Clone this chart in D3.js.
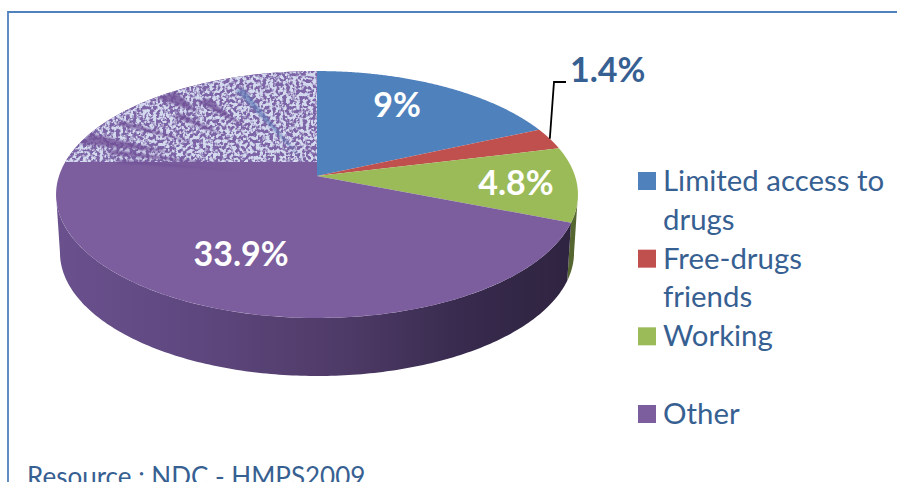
<!DOCTYPE html>
<html>
<head>
<meta charset="utf-8">
<script src="https://cdn.jsdelivr.net/npm/d3@7"></script>
<style>
  html, body { margin: 0; padding: 0; background: #fff; overflow: hidden; }
  text { font-family: Lato, "Open Sans", sans-serif; }
</style>
</head>
<body>
<div id="chart"></div>
<script>
// data
var categories = ["Limited access to drugs", "Free-drugs friends", "Working", "Other"];
var values = [9, 1.4, 4.8, 33.9];
var valueLabels = ["9%", "1.4%", "4.8%", "33.9%"];
var colors = ["#4f81bd", "#c0504d", "#9bbb59", "#7c5e9e"];
var legendLines = [["Limited access to", "drugs"], ["Free-drugs", "friends"], ["Working", ""], ["Other"]];
var sourceNote = "Resource : NDC - HMPS2009";

var width = 897, height = 482;

var svg = d3.select("#chart")
  .append("svg")
    .attr("width", width)
    .attr("height", height);

// the pie is drawn in perspective: apex, radii and foreshortening of the top face
var cx = 317, cy = 176, rx = 258, ry = 120.7, tilt = 0.15;
var depth = 58, bottomShrink = 0.985;

function project(a, r, down) {
  var X = r * Math.sin(a), Y = r * Math.cos(a), w = 1 + tilt * Y;
  return [
    cx + rx * X / w * (down ? bottomShrink : 1),
    cy - ry * Y / w + (down ? depth : 0)
  ];
}

var slices = d3.pie().sort(null)(values);
var line = d3.line();

function rimPoints(a0, a1, down) {
  return d3.range(0, 181).map(function(i) {
    return project(a0 + (a1 - a0) * i / 180, 1, down);
  });
}

var defs = svg.append("defs");

// side wall shading
var sideGrad = defs.append("linearGradient")
    .attr("id", "sideGrad")
    .attr("gradientUnits", "userSpaceOnUse")
    .attr("x1", 57).attr("x2", 570).attr("y1", 0).attr("y2", 0);
[[0, "#6a518e"], [0.25, "#5f4880"], [0.55, "#4f3b68"], [0.8, "#372a4d"], [1, "#2f2440"]].forEach(function(s) {
  sideGrad.append("stop").attr("offset", s[0]).attr("stop-color", s[1]);
});

// speckle used for the patch on the far side of the pie
var speckle = defs.append("filter")
    .attr("id", "speckle")
    .attr("x", 0).attr("y", 0).attr("width", 1).attr("height", 1);
speckle.append("feTurbulence")
    .attr("type", "fractalNoise")
    .attr("baseFrequency", 0.3)
    .attr("numOctaves", 2)
    .attr("seed", 4);
speckle.append("feColorMatrix")
    .attr("values", "0 0 0 0 0.66  0 0 0 0 0.70  0 0 0 0 0.86  6 0 0 0 -2.5");
speckle.append("feGaussianBlur").attr("stdDeviation", 0.7);

var soft = defs.append("filter").attr("id", "soft");
soft.append("feGaussianBlur").attr("stdDeviation", 1);

defs.append("clipPath").attr("id", "patchClip")
  .append("path")
    .attr("d", line(rimPoints(0, 2 * Math.PI)) + "Z");

// side wall, only the part of the rim that faces the viewer
var frontStart = Math.PI / 2 + Math.asin(tilt);
var frontEnd = 2 * Math.PI - frontStart;
var walls = svg.append("g");
slices.forEach(function(d, i) {
  var a0 = Math.max(d.startAngle, frontStart), a1 = Math.min(d.endAngle, frontEnd);
  if (a1 <= a0) return;
  var pts = rimPoints(a0, a1).concat(rimPoints(a0, a1, true).reverse());
  walls.append("path")
    .attr("d", line(pts) + "Z")
    .attr("fill", i == 3 ? "url(#sideGrad)" : d3.color(colors[i]).darker(1.7));
});

// top face
svg.append("g").selectAll("path")
  .data(slices)
  .join("path")
    .attr("d", function(d) {
      return line([[cx, cy]].concat(rimPoints(d.startAngle, d.endAngle))) + "Z";
    })
    .attr("fill", function(d, i) { return colors[i]; });

// textured patch sitting over the far part of the purple slice
var patchBottom = 162;
var patch = svg.append("g").attr("clip-path", "url(#patchClip)");
patch.append("rect")
    .attr("x", 50).attr("y", 60)
    .attr("width", cx - 50).attr("height", patchBottom - 60)
    .attr("fill", "#7d64a6");

patch.append("rect")
    .attr("x", 50).attr("y", 60)
    .attr("width", cx - 50).attr("height", patchBottom - 60)
    .attr("filter", "url(#speckle)");

// darker streaks in the patch: [pie angle in degrees, inner r, outer r, half width in degrees]
var streaks = [[289, 0.6, 1.0, 3.0], [284, 0.35, 0.85, 1.5], [279, 0.3, 0.8, 1.0], [300, 0.55, 0.95, 1.2], [319, 0.75, 1.0, 3.0], [325, 0.55, 0.85, 2.0], [313, 0.5, 0.8, 1.5]];
patch.append("g").selectAll("path")
  .data(streaks)
  .join("path")
    .attr("d", function(s) {
      var a = s[0] * Math.PI / 180, h = s[3] * Math.PI / 180;
      return line([project(a, s[1]), project(a - h, s[2]), project(a + h, s[2])]) + "Z";
    })
    .attr("fill", "#6f4f96")
    .attr("opacity", 0.8)
    .attr("filter", "url(#soft)");

// the blue streak running towards the apex
patch.append("path")
    .attr("d", line([project(337 * Math.PI / 180, 0.12), project(336 * Math.PI / 180, 0.87), project(338.5 * Math.PI / 180, 0.87)]) + "Z")
    .attr("fill", "#5f78b4")
    .attr("opacity", 0.7)
    .attr("filter", "url(#soft)");

// value labels on the slices
var labelAt = [[397, 117], null, [516, 195], [241, 266]];
svg.append("g").selectAll("text")
  .data(valueLabels)
  .join("text")
    .filter(function(d, i) { return labelAt[i]; })
    .attr("x", function(d) { return labelAt[valueLabels.indexOf(d)][0]; })
    .attr("y", function(d) { return labelAt[valueLabels.indexOf(d)][1]; })
    .attr("text-anchor", "middle")
    .attr("font-size", 34)
    .attr("font-weight", 700)
    .attr("fill", "#fff")
    .text(function(d) { return d; });

// leader for the small red slice
var leaderFrom = project((slices[1].startAngle + slices[1].endAngle) / 2, 1);
svg.append("path")
    .attr("d", line([leaderFrom, [554, 82], [566, 82]]))
    .attr("fill", "none")
    .attr("stroke", "#000")
    .attr("stroke-width", 1.8);
svg.append("text")
    .attr("x", 570).attr("y", 82)
    .attr("font-size", 34)
    .attr("font-weight", 700)
    .attr("fill", "#376092")
    .text(valueLabels[1]);

// legend
var legendY = d3.scalePoint().domain(categories).range([172, 405]);
var legend = svg.append("g").selectAll("g")
  .data(categories)
  .join("g")
    .attr("transform", function(d) { return "translate(638," + legendY(d) + ")"; });
legend.append("rect")
    .attr("width", 18)
    .attr("height", 18)
    .attr("fill", function(d, i) { return colors[i]; });
legend.selectAll("text")
  .data(function(d, i) { return legendLines[i]; })
  .join("text")
    .attr("x", 25)
    .attr("y", function(d, i) { return 19 + i * 38.7; })
    .attr("font-size", 29.4)
    .attr("fill", "#376092")
    .text(function(d) { return d; });

// source line, cut by the bottom of the picture
svg.append("text")
    .attr("x", 27).attr("y", 486)
    .attr("font-size", 26)
    .attr("fill", "#376092")
    .text(sourceNote);

// frame
svg.append("path")
    .attr("d", line([[8, height], [8, 12], [width, 12]]))
    .attr("fill", "none")
    .attr("stroke", "#4f81bd")
    .attr("stroke-width", 1.8);
</script>
</body>
</html>
